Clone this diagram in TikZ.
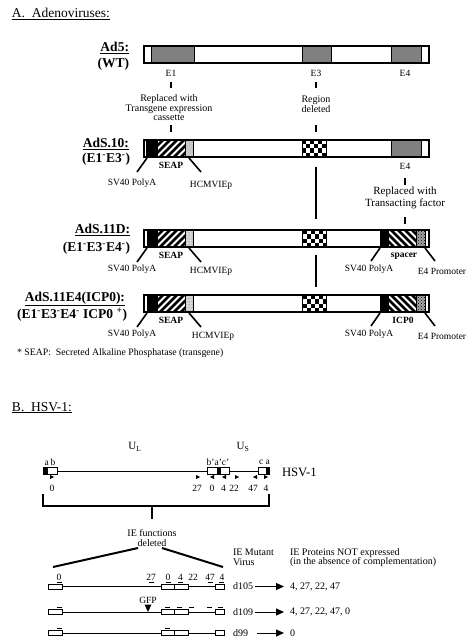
\documentclass[tikz,border=0pt]{standalone}
\usepackage{fontspec}
\setmainfont{Liberation Serif}
\usetikzlibrary{arrows.meta,patterns}
\newcommand\fs[1]{\fontsize{#1}{#1}\selectfont}
% forward hatch "/" in rectangle x1 y1 x2 y2
\newcommand\myhatchf[4]{%
  \begin{scope}\clip (#1,#2) rectangle (#3,#4);
  \foreach \k in {0,7,...,56}{\draw[line width=2.5] (#1-20+\k,#4+2) -- ++(22,-22);}
  \end{scope}\draw[seg] (#1,#2) rectangle (#3,#4);}
% backward hatch "\"
\newcommand\myhatchb[4]{%
  \begin{scope}\clip (#1,#2) rectangle (#3,#4);
  \foreach \k in {0,7,...,56}{\draw[line width=2.5] (#1-20+\k,#2-2) -- ++(22,22);}
  \end{scope}\draw[seg] (#1,#2) rectangle (#3,#4);}
% checker block, top-left x y
\newcommand\mychecker[2]{%
  \fill[white] (#1,#2) rectangle ++(24,17);
  \foreach \i in {0,...,5}{\foreach \j in {0,...,3}{%
    \pgfmathtruncatemacro\cs{mod(\i+\j,2)}%
    \ifnum\cs=0 \fill (#1+4*\i,#2+4.25*\j) rectangle ++(4,4.25);\fi}}%
  \draw[seg] (#1,#2) rectangle ++(24,17);}
\newcommand\trr[2]{\fill (#1-2,#2-2) -- (#1+2.2,#2) -- (#1-2,#2+2) -- cycle;}
\newcommand\trl[2]{\fill (#1+2,#2-2) -- (#1-2.2,#2) -- (#1+2,#2+2) -- cycle;}
\newcommand\hsvrow[1]{%
  \draw[line width=1] (62,#1) -- (161,#1) (188,#1) -- (215,#1);
  \draw[hbox] (48,#1-2.5) rectangle (62,#1+2.5);
  \draw[hbox] (161,#1-2.5) rectangle (174.5,#1+2.5);
  \draw[hbox] (174.5,#1-2.5) rectangle (188,#1+2.5);
  \draw[hbox] (215,#1-2.5) rectangle (224,#1+2.5);}
\newcommand\dsh[2]{\draw[line width=1.1] (#1-2.5,#2) -- (#1+2.5,#2);}
\begin{document}
\begin{tikzpicture}[x=1pt,y=-1pt]
\tikzset{
  every node/.style={inner sep=0pt, outer sep=0pt},
  barframe/.style={draw, line width=1.4, minimum width=285pt, minimum height=17pt},
  seg/.style={draw=black, line width=0.5},
  gseg/.style={seg, fill=black!50},
  lseg/.style={seg, fill=black!22},
  ldot/.style={seg, preaction={fill=black!15}, pattern=dots, pattern color=black!70},
  ddot/.style={seg, preaction={fill=black!35}, pattern=crosshatch dots, pattern color=black},
  tickline/.style={line width=2},
  leader/.style={line width=1.6},
  vlbl/.style={font=\fs{13.5}\bfseries, anchor=east},
  sm/.style={font=\fs{9.5}},
  smb/.style={font=\fs{9.5}\bfseries},
  note/.style={font=\fs{10}, align=center},
  hlbl/.style={font=\fs{9.5}},
  mut/.style={font=\fs{10}, anchor=west},
  hbox/.style={draw, line width=0.9, fill=white},
  mutarrow/.style={line width=1, -{Triangle[length=8pt,width=7pt]}},
}
\useasboundingbox (0,0) rectangle (474,644);
\fill[white] (0,0) rectangle (474,644);

% ---------------- A. Adenoviruses ----------------
\node[anchor=base west, font=\fs{13.5}] (titA) at (12,18) {\underline{A.\ \ Adenoviruses:}};

% Ad5 bar
\fill[white] (144,46) rectangle (429,63);
\draw[gseg] (151,46) rectangle (194,63);
\draw[gseg] (302,46) rectangle (331,63);
\draw[gseg] (391,46) rectangle (421,63);
\node[barframe] (ad5) at (286.5,54.5) {};
\node[vlbl] (ad5a) at (129,48) {\underline{Ad5:}};
\node[vlbl] (ad5b) at (129,64) {(WT)};
\node[sm] (e1) at (171,73) {E1};
\node[sm] (e3) at (316,73) {E3};
\node[sm] (e4) at (405,73) {E4};
\draw[tickline] (171,82) -- (171,88);
\draw[tickline] (316,82) -- (316,88);
\node[note, font=\fs{10}, text depth=0pt] (repl1) at (169,108) {Replaced with\\[-0.5pt]Transgene expression\\[-0.5pt]cassette};
\node[note, font=\fs{10}] (regdel) at (316,104) {Region\\[-0.5pt]deleted};
\draw[tickline] (171,125) -- (171,132);
\draw[tickline] (316,125) -- (316,132);

% AdS.10 bar
\fill[white] (144,140) rectangle (429,157);
\draw[seg, fill=black] (146.5,140) rectangle (157,157);
\myhatchf{157}{140}{185}{157}
\draw[lseg] (185,140) rectangle (193,157);
\mychecker{302}{140}
\draw[gseg] (391,140) rectangle (421,157);
\node[barframe] (ad10) at (286.5,148.5) {};
\node[vlbl] (ad10a) at (129,144) {\underline{AdS.10:}};
\node[vlbl] (ad10b) at (130,159) {(E1\textsuperscript{-}E3\textsuperscript{-})};
\node[smb] (seap1) at (171,165) {SEAP};
\draw[leader] (147,158) -- (137,172);
\draw[leader] (189,158) -- (201,172);
\node[sm] (sv1) at (132,183) {SV40 PolyA};
\node[sm] (hc1) at (211,185) {HCMVIEp};
\node[sm] (e4b) at (405,166) {E4};
\draw[tickline] (405,178) -- (405,185);
\node[note, font=\fs{11}] (repl2) at (405,198) {Replaced with\\[0.5pt]Transacting factor};
\draw[tickline] (405,217) -- (405,224);
\draw[tickline] (316,167) -- (316,219);

% AdS.11D bar
\fill[white] (144,230) rectangle (429,247);
\draw[seg, fill=black] (147,230) rectangle (157,247);
\myhatchf{157}{230}{185}{247}
\draw[ldot] (185,230) rectangle (193,247);
\mychecker{302.5}{230}
\draw[seg, fill=black] (380,230) rectangle (388,247);
\myhatchb{388}{230}{416}{247}
\draw[ddot] (416,230) rectangle (425,247);
\node[barframe] (ad11) at (286.5,238.5) {};
\node[vlbl] (ad11a) at (130,230) {\underline{AdS.11D:}};
\node[vlbl] (ad11b) at (130,248) {(E1\textsuperscript{-}E3\textsuperscript{-}E4\textsuperscript{-})};
\node[smb] (seap2) at (171,255) {SEAP};
\draw[leader] (147,248) -- (137,262);
\draw[leader] (189,248) -- (201,262);
\node[sm] (sv2) at (132,269) {SV40 PolyA};
\node[sm] (hc2) at (211,271) {HCMVIEp};
\node[smb] (spacer) at (404,256) {spacer};
\draw[leader] (380,248) -- (371,261);
\draw[leader] (425,248) -- (435,261);
\node[sm] (sv3) at (369,269) {SV40 PolyA};
\node[sm] (e4p1) at (442,271) {E4 Promoter};
\draw[tickline] (316,255) -- (316,287);

% AdS.11E4(ICP0) bar
\fill[white] (144,295) rectangle (429,312);
\draw[seg, fill=black] (147,295) rectangle (157,312);
\myhatchf{157}{295}{185}{312}
\draw[ldot] (185,295) rectangle (193,312);
\mychecker{302.5}{295}
\draw[seg, fill=black] (380,295) rectangle (388,312);
\myhatchb{388}{295}{416}{312}
\draw[ddot] (416,295) rectangle (425,312);
\node[barframe] (ad12) at (286.5,303.5) {};
\node[vlbl] (ad12a) at (125,299) {\underline{AdS.11E4(ICP0):}};
\node[vlbl] (ad12b) at (127,315) {(E1\textsuperscript{-}E3\textsuperscript{-}E4\textsuperscript{-} ICP0 \textsuperscript{+})};
\node[smb] (seap3) at (171,320) {SEAP};
\node[smb] (icp0) at (403,320) {ICP0};
\draw[leader] (147,313) -- (137,327);
\draw[leader] (189,313) -- (201,327);
\draw[leader] (380,313) -- (371,326);
\draw[leader] (425,313) -- (435,326);
\node[sm] (sv4) at (132,334) {SV40 PolyA};
\node[sm] (hc4) at (213,336) {HCMVIEp};
\node[sm] (sv5) at (369,334) {SV40 PolyA};
\node[sm] (e4p2) at (442,336) {E4 Promoter};
\node[anchor=west, font=\fs{9.8}] (foot) at (17,353) {* SEAP:\ \ Secreted Alkaline Phosphatase (transgene)};

% ---------------- B. HSV-1 ----------------
\node[anchor=base west, font=\fs{13.5}] (titB) at (12,411) {\underline{B.\ \ HSV-1:}};
\node[font=\fs{11}] (ul) at (135,447) {U\textsubscript{L}};
\node[font=\fs{11}] (us) at (243,447) {U\textsubscript{S}};
\draw[line width=1] (57,471) -- (207,471) (229,471) -- (258,471);
\draw[hbox, fill=black] (43,467.5) rectangle (47,474);
\draw[hbox] (47,467.5) rectangle (57,474);
\draw[hbox] (207,467.5) rectangle (217.5,474);
\draw[hbox, fill=black] (217.5,467.5) rectangle (220,474);
\draw[hbox] (220,467.5) rectangle (229,474);
\draw[hbox] (258,467.5) rectangle (266.5,474);
\draw[hbox, fill=black] (266.5,467.5) rectangle (269.5,474);
\node[hlbl] (lab1) at (50,462) {a\,b};
\node[hlbl] (lab2) at (218,462) {b'a'c'};
\node[hlbl] (lab3) at (264.5,462) {c a};
\node[anchor=west, font=\fs{12.7}] (hsv) at (282,472) {HSV-1};
\trr{52}{477}
\trr{198}{477}
\trl{212}{477}
\trl{224}{477}
\trr{237}{477}
\trl{255}{477}
\trr{266}{477}
\node[hlbl] (n0) at (52,488) {0};
\node[hlbl] (n27) at (197,488) {27};
\node[hlbl] (n0b) at (212,488) {0};
\node[hlbl] (n4) at (223.5,488) {4};
\node[hlbl] (n22) at (234,488) {22};
\node[hlbl] (n47) at (253,488) {47};
\node[hlbl] (n4b) at (266,488) {4};
\draw[line width=1.8] (43,494) -- (43,506) -- (269,506) -- (269,494);
\draw[line width=1.8] (152,506) -- (152,519);
\node[note] (ief) at (152,538) {IE functions\\[-0.5pt]deleted};
\draw[line width=2] (138,548) -- (53,567);
\draw[line width=2] (162,548) -- (223,567);
\node[anchor=west, align=left, font=\fs{10}] (iemut) at (233,557.5) {IE Mutant\\[-0.5pt]Virus};
\node[anchor=west, align=left, font=\fs{10}] (iepro) at (290,557.5) {IE Proteins NOT expressed\\[-0.5pt](in the absence of complementation)};

% row d105
\hsvrow{586.5}
\node[hlbl] (r1a) at (59,577.5) {0};
\node[hlbl] (r1b) at (151,577.5) {27};
\node[hlbl] (r1c) at (168,577.5) {0};
\node[hlbl] (r1d) at (180.5,577.5) {4};
\node[hlbl] (r1e) at (193,577.5) {22};
\node[hlbl] (r1f) at (210,577.5) {47};
\node[hlbl] (r1g) at (222,577.5) {4};
\dsh{59}{582.5}\dsh{151}{582.5}\dsh{168}{582.5}\dsh{180.5}{582.5}\dsh{210}{582.5}\dsh{221.5}{582.5}
\node[mut] (d105) at (233,586.5) {d105};
\node[mut] (p105) at (290,586.5) {4, 27, 22, 47};
% row d109
\hsvrow{612}
\dsh{59}{607.5}\dsh{167}{607.5}\dsh{179}{607.5}\dsh{191.5}{607.5}\dsh{209}{607.5}\dsh{220}{607.5}
\node[hlbl] (gfp) at (148,600) {GFP};
\fill (144.5,604.5) -- (151.5,604.5) -- (148,612) -- cycle;
\node[mut] (d109) at (233,612) {d109};
\node[mut] (p109) at (290,612) {4, 27, 22, 47, 0};
% row d99
\hsvrow{633}
\dsh{59}{628.5}\dsh{167}{628.5}
\node[mut] (d99) at (233,633) {d99};
\node[mut] (p99) at (290,633) {0};
\draw[mutarrow, shorten >=6pt] (255,586.5) -- (p105.west);
\draw[mutarrow, shorten >=6pt] (255,612) -- (p109.west);
\draw[mutarrow, shorten >=6pt] (257,633) -- (p99.west);
\end{tikzpicture}
\end{document}
